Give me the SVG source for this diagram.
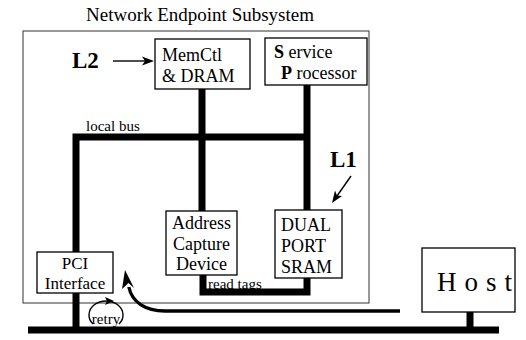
<svg xmlns="http://www.w3.org/2000/svg" width="526" height="340" viewBox="0 0 526 340">
<style>
.t{font-family:"Liberation Serif","Times New Roman",serif;fill:#000}
.n{font-size:18px}
.box{fill:#fff;stroke:#000;stroke-width:1.3}
.bus{fill:none;stroke:#000;stroke-width:7;stroke-linejoin:miter;stroke-linecap:butt}
.thin{fill:none;stroke:#000;stroke-width:1.4}
</style>
<rect width="526" height="340" fill="#fff"/>
<text class="t" x="86" y="21" font-size="19">Network Endpoint Subsystem</text>
<rect id="frame" x="23" y="31" width="346" height="272" fill="none" stroke="#333" stroke-width="1"/>
<g id="connectors">
  <path class="bus" d="M76,252 L76,137 L307,137"/>
  <path class="bus" d="M307,85 L307,210"/>
  <path class="bus" d="M202,89 L202,211"/>
  <path class="bus" d="M76,293 L76,327"/>
  <path class="bus" stroke-width="8" d="M28,330 L499,330"/>
  <path class="bus" stroke-width="8" d="M470,312 L470,327"/>
  <path class="bus" stroke-width="3" d="M203,275 L203,292 L307,292 L307,278"/>
  <path fill="none" stroke="#000" stroke-width="3.3" d="M400,311 L165,311 C145,311 132,302 128.8,287"/>
  <polygon points="125,270 134,288 128.5,283 122,289"/>
  <path class="thin" d="M93,324 A17,14 0 1 1 119,324"/>
  <polygon points="114,301 105,297 107,301 105,305"/>
  <line class="thin" x1="113" y1="61" x2="145" y2="61"/>
  <polygon points="154,61 142,56.5 145,61 142,65.5"/>
  <line class="thin" x1="351" y1="176" x2="337" y2="196"/>
  <polygon points="332,203 335,190.5 337,195.5 342,196"/>
</g>
<g id="node-memctl">
  <rect class="box" x="155" y="39" width="95" height="50"/>
  <text class="t n" x="162" y="61">MemCtl</text>
  <text class="t n" x="162" y="82">&amp; DRAM</text>
</g>
<g id="node-sp">
  <rect class="box" x="265" y="38" width="102" height="47"/>
  <text class="t n" x="274" y="58"><tspan font-weight="bold">S</tspan> ervice</text>
  <text class="t n" x="281" y="79"><tspan font-weight="bold">P</tspan> rocessor</text>
</g>
<g id="node-acd">
  <rect class="box" x="166" y="211" width="71" height="64"/>
  <text class="t n" x="201.5" y="229" text-anchor="middle">Address</text>
  <text class="t n" x="201.5" y="250" text-anchor="middle">Capture</text>
  <text class="t n" x="201.5" y="270" text-anchor="middle">Device</text>
</g>
<g id="node-sram">
  <rect class="box" x="275" y="210" width="67" height="68"/>
  <text class="t n" x="281" y="231">DUAL</text>
  <text class="t n" x="281" y="252">PORT</text>
  <text class="t n" x="281" y="273">SRAM</text>
</g>
<g id="node-pci">
  <rect class="box" x="37" y="252" width="76" height="41"/>
  <text class="t" font-size="17" x="75" y="269" text-anchor="middle">PCI</text>
  <text class="t" font-size="17" x="75" y="289" text-anchor="middle">Interface</text>
</g>
<g id="node-host">
  <rect class="box" x="422" y="248" width="93" height="64"/>
  <text class="t" font-size="27" x="437" y="291" letter-spacing="8">Host</text>
</g>
<g id="labels">
  <text class="t" font-size="23" font-weight="bold" x="72" y="68">L2</text>
  <text class="t" font-size="23" font-weight="bold" x="330" y="167">L1</text>
  <text class="t" font-size="15" x="86" y="131">local bus</text>
  <text class="t" font-size="15" x="208" y="289">read tags</text>
  <text class="t" font-size="15" x="106" y="324" text-anchor="middle">retry</text>
</g>
</svg>
